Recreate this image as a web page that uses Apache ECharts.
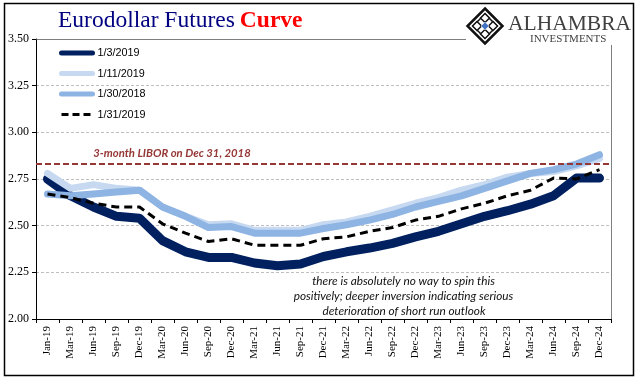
<!DOCTYPE html>
<html><head><meta charset="utf-8">
<style>html,body{margin:0;padding:0;background:#fff}#c{width:641px;height:381px}</style>
<script src="https://cdn.jsdelivr.net/npm/echarts@6/dist/echarts.min.js"></script>
</head><body><div id="c"></div>
<script>
var categories = ['Jan-19','Mar-19','Jun-19','Sep-19','Dec-19','Mar-20','Jun-20','Sep-20','Dec-20','Mar-21','Jun-21','Sep-21','Dec-21','Mar-22','Jun-22','Sep-22','Dec-22','Mar-23','Jun-23','Sep-23','Dec-23','Mar-24','Jun-24','Sep-24','Dec-24'];
var jan3  = [2.75,2.66,2.60,2.55,2.54,2.42,2.36,2.33,2.33,2.30,2.285,2.295,2.335,2.36,2.38,2.405,2.44,2.47,2.51,2.55,2.58,2.615,2.66,2.755,2.755];
var jan11 = [2.78,2.70,2.72,2.70,2.69,2.60,2.55,2.505,2.51,2.475,2.475,2.475,2.505,2.52,2.55,2.585,2.62,2.65,2.69,2.72,2.76,2.78,2.79,2.82,2.86];
var jan30 = [2.67,2.66,2.67,2.68,2.69,2.60,2.55,2.49,2.495,2.46,2.46,2.46,2.485,2.505,2.53,2.56,2.60,2.63,2.66,2.70,2.74,2.78,2.80,2.83,2.88];
var jan31 = [2.67,2.65,2.62,2.60,2.60,2.51,2.46,2.415,2.43,2.395,2.395,2.395,2.43,2.44,2.47,2.49,2.53,2.55,2.59,2.62,2.66,2.69,2.755,2.75,2.80];
var libor = 2.83;
var NAVY='#002060', LIGHT='#c6d9f1', MID='#8eb4e3', RED='#953735';
function s(name,data,color,width,type){
  return {name:name,type:'line',data:data,symbol:'none',showSymbol:false,smooth:false,silent:true,animation:false,
    lineStyle:{color:color,width:width,type:type||'solid',cap:type?'butt':'round',join:'round'},itemStyle:{color:color}};
}
var series=[s('1/3/2019',jan3,NAVY,9),s('1/11/2019',jan11,LIGHT,7),s('1/30/2018',jan30,MID,7),s('1/31/2019',jan31,'#000',3,[8,5])];
series[3].markLine={silent:true,symbol:'none',animation:false,label:{show:false},
  lineStyle:{color:RED,width:2,type:[6,3]},data:[{yAxis:libor}]};
var chart=echarts.init(document.getElementById('c'),null,{renderer:'canvas'});
function leg(n,c,w,t){return {name:n,lineStyle:{color:c,width:w,type:t||'solid',cap:t?'butt':'round'}};}
var kn='"Liberation Sans",Arial,sans-serif', ser='"Liberation Serif","Times New Roman",serif';
var lato='Lato,"Open Sans",sans-serif';
var LX=485,LY=26;
function dia(cx,cy,r,fill,stroke,lw){return {type:'polygon',z:60,silent:true,shape:{points:[[cx,cy-r],[cx+r,cy],[cx,cy+r],[cx-r,cy]]},style:{fill:fill,stroke:stroke,lineWidth:lw||0}};}
function note(t,x,y,size,color){return {type:'text',z:60,silent:true,x:x,y:y,style:{text:t,fontFamily:lato,fontStyle:'italic',fontSize:size,fill:color,align:'center',verticalAlign:'middle'}};}
chart.setOption({
  animation:false,backgroundColor:'#fff',
  title:{left:58,top:9,padding:0,text:'{a|Eurodollar Futures} {b|Curve}',
    textStyle:{fontWeight:'normal',rich:{a:{fontFamily:ser,fontSize:23.5,fontWeight:'normal',color:'#000080'},b:{fontFamily:ser,fontSize:23.5,fontWeight:'bold',color:'#ff0000'}}}},
  legend:{orient:'vertical',left:59,top:47.5,padding:0,itemWidth:31,itemHeight:14,itemGap:9.3,selectedMode:false,
    itemStyle:{opacity:0},
    textStyle:{fontFamily:kn,fontSize:10.8,color:'#000'},
    data:[leg('1/3/2019',NAVY,5),leg('1/11/2019',LIGHT,5),leg('1/30/2018',MID,5),leg('1/31/2019','#000',3,[7,4])]},
  grid:{left:36,right:30,top:39,bottom:62},
  xAxis:{type:'category',data:categories,boundaryGap:true,
    axisLine:{lineStyle:{color:'#000',width:1}},
    axisTick:{show:true,alignWithLabel:false,length:4,lineStyle:{color:'#000'}},
    axisLabel:{interval:0,rotate:90,fontFamily:ser,fontSize:11,color:'#000',margin:7},splitLine:{show:false}},
  yAxis:{type:'value',min:2,max:3.5,interval:0.25,
    axisLine:{show:true,lineStyle:{color:'#000',width:1}},
    axisTick:{show:true,length:4,lineStyle:{color:'#000'}},
    axisLabel:{fontFamily:ser,fontSize:12,color:'#000',margin:7,padding:[2,0,0,0],formatter:function(v){return v.toFixed(2);}},
    splitLine:{show:true,lineStyle:{color:'#bfbfbf',type:[3,2],width:1}}},
  series:series,
  graphic:[
    {type:'rect',z:50,silent:true,shape:{x:466,y:30,width:150,height:14.5},style:{fill:'#fff'}},
    {type:'line',z:51,silent:true,shape:{x1:36.5,y1:39.5,x2:466,y2:39.5},style:{stroke:'#7f7f7f',lineWidth:1}},
    {type:'line',z:51,silent:true,shape:{x1:611.5,y1:45,x2:611.5,y2:319},style:{stroke:'#7f7f7f',lineWidth:1}},
    {type:'rect',z:52,silent:true,shape:{x:4.5,y:3.5,width:629,height:372},style:{fill:'none',stroke:'#000',lineWidth:1.5}},
    dia(LX,LY,17.5,'none','#111',2.5),
    dia(LX,LY,12,'none','#111',1.5),
    dia(LX-8,LY,4.5,'#fff','#111',1.5),dia(LX+8,LY,4.5,'#fff','#111',1.5),
    dia(LX,LY-8,4.5,'#fff','#111',1.5),dia(LX,LY+8,4.5,'#fff','#111',1.5),
    dia(LX,LY,4,'#4472c4','#fff',0.5),
    {type:'text',z:60,silent:true,x:508,y:24,style:{text:'ALHAMBRA',fontFamily:ser,fontSize:21.5,fill:'#404040',verticalAlign:'middle'}},
    {type:'text',z:60,silent:true,x:530,y:39.5,style:{text:'INVESTMENTS',fontFamily:ser,fontSize:11,fill:'#404040',verticalAlign:'middle'}},
    {type:'text',z:60,silent:true,x:172,y:153,style:{text:'3-month LIBOR on Dec 31, 2018',fontFamily:lato,fontStyle:'italic',fontWeight:'bold',fontSize:11.3,fill:RED,align:'center',verticalAlign:'middle'}},
    note('there is absolutely no way to spin this',403.5,281,11.8,'#111'),
    note('positively; deeper inversion indicating serious',403.5,296,11.8,'#111'),
    note('deterioration of short run outlook',404,311,11.8,'#111')
  ]
});
</script></body></html>
